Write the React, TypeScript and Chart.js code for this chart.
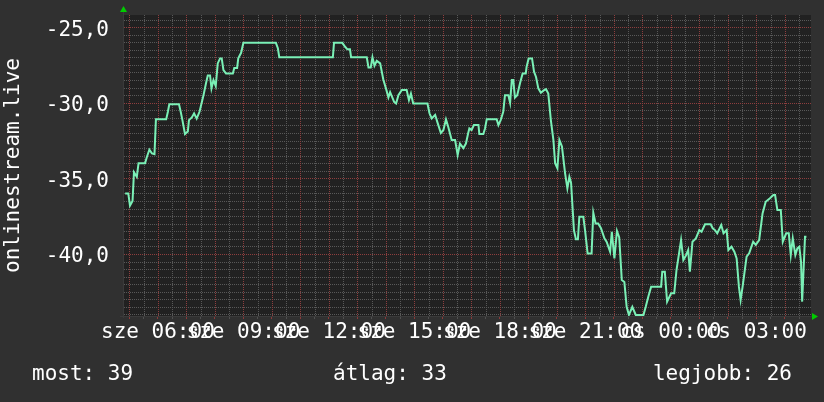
import React, { useEffect, useRef } from "react";
import { Chart, registerables } from "chart.js";

Chart.register(...registerables);

// Time in hours since "sze" (Wednesday) 00:00; values of onlinestream.live
const times: number[] = [
  4.85, 4.96, 5.02, 5.11, 5.16, 5.26, 5.32, 5.55, 5.61, 5.70, 5.79, 5.88, 5.93, 6.29, 6.35, 6.40,
  6.74, 6.80, 6.86, 6.95, 7.05, 7.09, 7.19, 7.27, 7.36, 7.46, 7.53, 7.60, 7.69, 7.75, 7.83, 7.88,
  7.95, 8.03, 8.10, 8.18, 8.24, 8.30, 8.39, 8.63, 8.68, 8.78, 8.82, 8.92, 9.00, 10.14, 10.21, 10.26,
  12.14, 12.18, 12.47, 12.57, 12.65, 12.74, 12.78, 13.33, 13.39, 13.47, 13.53, 13.60, 13.68, 13.80,
  13.91, 14.01, 14.09, 14.15, 14.29, 14.36, 14.44, 14.56, 14.73, 14.81, 14.88, 14.96, 15.46, 15.53,
  15.61, 15.73, 15.81, 15.93, 16.02, 16.11, 16.19, 16.31, 16.43, 16.52, 16.60, 16.72, 16.81, 16.89,
  16.93, 17.01, 17.09, 17.25, 17.28, 17.42, 17.48, 17.54, 17.89, 17.95, 18.03, 18.12, 18.18, 18.30,
  18.36, 18.42, 18.47, 18.53, 18.61, 18.71, 18.80, 18.91, 18.94, 19.01, 19.13, 19.20, 19.27, 19.35,
  19.44, 19.53, 19.62, 19.70, 19.79, 19.88, 19.94, 20.02, 20.09, 20.18, 20.29, 20.37, 20.44, 20.50,
  20.60, 20.67, 20.74, 20.79, 20.93, 20.99, 21.08, 21.22, 21.28, 21.36, 21.45, 21.55, 21.67, 21.75,
  21.87, 21.93, 22.02, 22.11, 22.19, 22.28, 22.37, 22.45, 22.53, 22.65, 22.77, 23.04, 23.12, 23.21,
  23.31, 23.66, 23.70, 23.79, 23.87, 24.01, 24.12, 24.20, 24.36, 24.44, 24.53, 24.61, 24.67, 24.76,
  24.88, 25.00, 25.08, 25.20, 25.40, 25.47, 25.55, 25.63, 25.77, 25.85, 25.96, 26.02, 26.13, 26.23,
  26.31, 26.39, 26.45, 26.52, 26.66, 26.75, 26.89, 26.98, 27.10, 27.22, 27.33, 27.48, 27.60, 27.66,
  27.74, 27.86, 27.93, 28.05, 28.14, 28.21, 28.28, 28.37, 28.44, 28.51, 28.57, 28.61, 28.71, 28.76,
];

const values: number[] = [
  -36.0, -36.0, -36.8, -36.5, -34.6, -34.9, -34.0, -34.0, -33.6, -33.1, -33.35, -33.4, -31.1, -31.1, -30.6, -30.1,
  -30.1, -30.6, -31.15, -32.07, -31.9, -31.15, -30.97, -30.7, -31.05, -30.6, -30.05, -29.5, -28.7, -28.2, -28.2, -29.05,
  -28.5, -28.9, -27.4, -27.07, -27.07, -27.84, -28.06, -28.06, -27.7, -27.7, -27.07, -26.7, -26.04, -26.04, -26.4, -27.0,
  -27.0, -26.04, -26.04, -26.3, -26.47, -26.47, -27.0, -27.0, -27.67, -27.67, -27.0, -27.55, -27.23, -27.4,
  -28.46, -29.1, -29.65, -29.3, -29.94, -30.05, -29.5, -29.16, -29.16, -29.83, -29.4, -30.05, -30.05, -30.7,
  -31.04, -30.8, -31.3, -32.0, -31.8, -31.1, -31.6, -32.47, -32.47, -33.46, -32.7, -33.0, -32.7, -32.0,
  -31.7, -31.8, -31.48, -31.48, -32.07, -32.07, -31.7, -31.1, -31.1, -31.48, -31.15, -30.6, -29.5, -29.5,
  -30.0, -28.5, -28.5, -29.65, -29.5, -28.7, -28.06, -28.06, -27.62, -27.07, -27.07, -27.95, -28.3, -29.05,
  -29.34, -29.2, -29.1, -29.4, -31.15, -32.47, -34.0, -34.33, -32.47, -32.9, -34.67, -35.66, -34.9, -35.3,
  -38.42, -39.03, -39.03, -37.54, -37.54, -38.42, -39.96, -39.96, -37.27, -37.98, -37.98, -38.3, -38.97, -39.2,
  -39.85, -38.53, -40.29, -38.47, -38.9, -41.72, -41.85, -43.49, -44.03, -43.49, -44.03, -44.03, -43.49, -42.82,
  -42.16, -42.16, -41.17, -41.17, -43.15, -42.6, -42.6, -41.06, -39.08, -40.4, -40.1, -39.74, -41.17, -39.19,
  -38.97, -38.42, -38.53, -38.04, -38.04, -38.3, -38.42, -38.63, -38.09, -38.63, -38.42, -39.74, -39.52, -39.85,
  -40.29, -42.16, -43.04, -42.16, -40.18, -39.96, -39.19, -39.4, -39.08, -37.32, -36.55, -36.32, -36.1, -36.1,
  -37.1, -37.1, -39.19, -38.63, -38.63, -40.07, -38.97, -40.07, -39.63, -39.52, -40.51, -43.15, -38.86, -38.86,
];

const dayNames: string[] = ["sze", "cs"];
const yTitle = "onlinestream.live";
const footerLabels: string[] = ["most: 39", "átlag: 33", "legjobb: 26"];

const X_MIN = 4.81;
const X_MAX = 28.92;
const Y_MIN = -44.1;
const Y_MAX = -24.2;

const FONT = "DejaVu Sans Mono";
const BG = "#303030";
const PLOT_BG = "#212121";
const LINE = "#7af0b6";
const GRID_MINOR = "#585858";
const GRID_MAJOR = "#8e3e3e";
const TEXT = "#ffffff";
const ARROW = "#00cc00";

const near = (v: number, m: number) => {
  const r = Math.abs(v % m);
  return r < 1e-6 || Math.abs(r - m) < 1e-6;
};

export default function App() {
  const ref = useRef<HTMLCanvasElement | null>(null);

  useEffect(() => {
    document.body.style.margin = "0";
    document.body.style.background = BG;
    const canvas = ref.current;
    if (!canvas) return;

    const bgPlugin = {
      id: "bgPlugin",
      beforeDraw(chart: any) {
        const { ctx, chartArea } = chart;
        ctx.save();
        ctx.fillStyle = BG;
        ctx.fillRect(0, 0, chart.width, chart.height);
        ctx.fillStyle = PLOT_BG;
        ctx.fillRect(chartArea.left, chartArea.top, chartArea.right - chartArea.left, chartArea.bottom - chartArea.top);
        ctx.restore();
      },
      beforeDatasetsDraw(chart: any) {
        const { ctx, chartArea, scales } = chart;
        const { left, right, top, bottom } = chartArea;
        ctx.save();
        // dotted grid: 1px dots, 1px gaps
        const dotsV = (px: number) => {
          for (let y = Math.ceil(top); y < bottom; y += 2) ctx.fillRect(px, y, 1, 1);
        };
        const dotsH = (py: number) => {
          for (let x = Math.ceil(left); x < right; x += 2) ctx.fillRect(x, py, 1, 1);
        };
        const drawSet = (major: boolean) => {
          for (const t of scales.x.ticks) {
            if (near(t.value, 1) !== major) continue;
            dotsV(Math.round(scales.x.getPixelForValue(t.value)));
          }
          for (const t of scales.y.ticks) {
            if (near(t.value, 5) !== major) continue;
            dotsH(Math.round(scales.y.getPixelForValue(t.value)));
          }
        };
        ctx.fillStyle = GRID_MINOR;
        drawSet(false);
        ctx.fillStyle = GRID_MAJOR;
        drawSet(true);
        ctx.restore();
      },
    };

    const decorPlugin = {
      id: "decorPlugin",
      afterDraw(chart: any) {
        const { ctx, chartArea } = chart;
        const { left, right, top, bottom } = chartArea;
        ctx.save();
        ctx.strokeStyle = "#3a3a3a";
        ctx.lineWidth = 1;
        ctx.beginPath();
        ctx.moveTo(left - 4, bottom + 0.5);
        ctx.lineTo(right + 2, bottom + 0.5);
        ctx.moveTo(left - 0.5, top - 4);
        ctx.lineTo(left - 0.5, bottom + 2);
        ctx.stroke();
        ctx.fillStyle = ARROW;
        ctx.beginPath();
        ctx.moveTo(left - 4, top - 3);
        ctx.lineTo(left + 3, top - 3);
        ctx.lineTo(left - 0.5, top - 9);
        ctx.closePath();
        ctx.fill();
        ctx.beginPath();
        ctx.moveTo(right + 1, bottom - 3);
        ctx.lineTo(right + 1, bottom + 4);
        ctx.lineTo(right + 7, bottom + 0.5);
        ctx.closePath();
        ctx.fill();
        ctx.fillStyle = TEXT;
        ctx.font = `21px "${FONT}"`;
        ctx.translate(19, (top + bottom) / 2);
        ctx.rotate(-Math.PI / 2);
        ctx.textAlign = "center";
        ctx.textBaseline = "alphabetic";
        ctx.fillText(yTitle, 0, 0);
        ctx.restore();
        ctx.save();
        ctx.fillStyle = TEXT;
        ctx.font = `21px "${FONT}"`;
        ctx.textBaseline = "alphabetic";
        ctx.textAlign = "left";
        ctx.fillText(footerLabels[0], 32, 380);
        ctx.fillText(footerLabels[1], 333, 380);
        ctx.textAlign = "right";
        ctx.fillText(footerLabels[2], 792, 380);
        ctx.restore();
      },
    };

    const chart = new Chart(canvas, {
      type: "line",
      data: {
        datasets: [
          {
            data: times.map((t, i) => ({ x: t, y: values[i] })),
            borderColor: LINE,
            borderWidth: 2,
            pointRadius: 0,
            tension: 0,
            fill: false,
          },
        ],
      },
      options: {
        animation: false,
        responsive: false,
        devicePixelRatio: 1,
        layout: { padding: { left: 0, top: 15, right: 13, bottom: 0 } },
        plugins: { legend: { display: false }, tooltip: { enabled: false } },
        scales: {
          x: {
            type: "linear",
            min: X_MIN,
            max: X_MAX,
            afterFit: (s: any) => {
              s.height = 86;
              s.paddingLeft = 0;
              s.paddingRight = 0;
            },
            ticks: {
              stepSize: 0.5,
              autoSkip: false,
              maxRotation: 0,
              minRotation: 0,
              includeBounds: false,
              maxTicksLimit: 200,
              color: TEXT,
              padding: 3,
              font: { family: FONT, size: 21, lineHeight: 1 },
              callback: (v: any) => {
                const h = Number(v);
                if (!near(h, 3)) return "";
                const day = h >= 24 ? dayNames[1] : dayNames[0];
                const hh = Math.round(h % 24);
                return `${day} ${String(hh).padStart(2, "0")}:00`;
              },
            },
            grid: {
              drawOnChartArea: false,
              tickColor: (c: any) => (near(c.tick.value, 1) ? "#8a3a3a" : "#505050"),
              lineWidth: 1,
              tickLength: 3,
              drawTicks: true,
            },
            border: { display: false },
          },
          y: {
            type: "linear",
            min: Y_MIN,
            max: Y_MAX,
            afterFit: (s: any) => {
              s.width = 124;
              s.paddingTop = 0;
              s.paddingBottom = 0;
            },
            ticks: {
              stepSize: 0.5,
              autoSkip: false,
              includeBounds: false,
              maxTicksLimit: 200,
              color: TEXT,
              padding: 15,
              labelOffset: 3,
              font: { family: FONT, size: 21 },
              callback: (v: any) => {
                const n = Number(v);
                if (!near(n, 5)) return "";
                return n.toFixed(1).replace(".", ",");
              },
            },
            grid: { display: false, drawTicks: false },
            border: { display: false },
          },
        },
      },
      plugins: [bgPlugin, decorPlugin],
    });

    return () => {
      chart.destroy();
    };
  }, []);

  return (
    <div style={{ width: 824, height: 402, background: BG }}>
      <canvas ref={ref} width={824} height={402} style={{ display: "block", width: 824, height: 402 }} />
    </div>
  );
}
